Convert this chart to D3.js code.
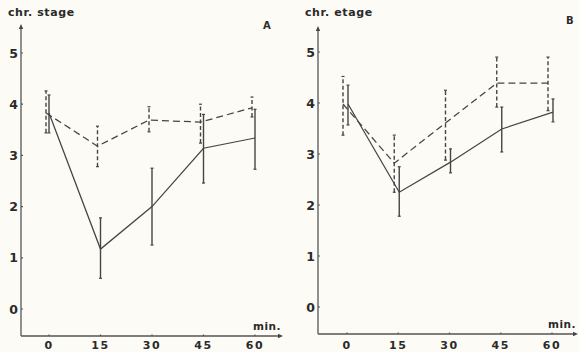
<!DOCTYPE html>
<html>
<head>
<meta charset="utf-8">
<script src="https://cdn.jsdelivr.net/npm/d3@7"></script>
<style>
  html, body { margin: 0; padding: 0; background: #fdfbf5; }
  svg text { font-family: "DejaVu Sans", sans-serif; fill: #2a2a2a; font-weight: bold; }
</style>
</head>
<body>
<svg id="chart" width="579" height="352"></svg>
<script>
// ── DATA ──────────────────────────────────────────────────────────────────────
const minutes = [0, 15, 30, 45, 60];
const yTicks  = [0, 1, 2, 3, 4, 5];

// Panel A
const aSolid    = [3.83, 1.17, 2.0, 3.14, 3.34];
const aSolidLo  = [3.44, 0.6, 1.25, 2.46, 2.73];
const aSolidHi  = [4.18, 1.78, 2.75, 3.8, 3.9];
const aDashed   = [3.83, 3.18, 3.69, 3.65, 3.93];
const aDashedLo = [3.44, 2.78, 3.46, 3.24, 3.75];
const aDashedHi = [4.26, 3.57, 3.95, 4.0, 4.14];

// Panel B
const bSolid    = [3.98, 2.25, 2.84, 3.49, 3.82];
const bSolidLo  = [3.57, 1.78, 2.63, 3.04, 3.63];
const bSolidHi  = [4.35, 2.75, 3.1, 3.92, 4.08];
const bDashed   = [3.98, 2.82, 3.61, 4.39, 4.39];
const bDashedLo = [3.37, 2.25, 2.88, 3.92, 3.85];
const bDashedHi = [4.52, 3.37, 4.25, 4.9, 4.9];

const svg = d3.select('#chart');
const INK = '#454545';

// ── PANEL ─────────────────────────────────────────────────────────────────────
function drawPanel(p) {
  const x = d3.scaleLinear().domain([0, 60]).range([p.x0, p.x60]);
  const y = d3.scaleLinear().domain([0, 5]).range([p.y0, p.y5]);
  const g = svg.append('g');

  // axes
  g.append('line').attr('x1', p.ax).attr('x2', p.ax).attr('y1', p.ay).attr('y2', p.yTop + 3)
    .attr('stroke', '#555').attr('stroke-width', 1.3);
  g.append('line').attr('x1', p.ax).attr('x2', p.xEnd - 3).attr('y1', p.ay).attr('y2', p.ay)
    .attr('stroke', '#555').attr('stroke-width', 1.3);
  g.append('path').attr('d', `M${p.ax},${p.yTop} l-2.2,5 h4.4 z`).attr('fill', '#444');
  g.append('path').attr('d', `M${p.xEnd},${p.ay} l-5,-2.2 v4.4 z`).attr('fill', '#444');

  // y ticks
  yTicks.forEach(t => {
    g.append('line').attr('x1', p.ax).attr('x2', p.ax + 2).attr('y1', y(t)).attr('y2', y(t))
      .attr('stroke', '#555').attr('stroke-width', 1.2);
    g.append('text').attr('x', p.ax - 3).attr('y', y(t) + 4.5).attr('text-anchor', 'end')
      .attr('font-size', 12.5).text(t);
  });

  // x ticks
  minutes.forEach(m => {
    g.append('line').attr('x1', x(m)).attr('x2', x(m)).attr('y1', p.ay).attr('y2', p.ay - 1.5)
      .attr('stroke', '#555').attr('stroke-width', 1.2);
    g.append('text').attr('x', x(m)).attr('y', 348.5).attr('text-anchor', 'middle')
      .attr('font-size', 11).attr('letter-spacing', 1.5).text(m);
  });

  g.append('text').attr('x', p.ax - 13).attr('y', 16).attr('font-size', 11)
    .attr('letter-spacing', 0.6).text(p.ylabel);
  g.append('text').attr('x', p.xEnd - 2).attr('y', p.ay - 6).attr('text-anchor', 'end')
    .attr('font-size', 10.5).attr('letter-spacing', 0.5).text('min.');
  g.append('text').attr('x', p.lx).attr('y', p.ly).attr('font-size', 10).text(p.tag);

  // series
  const series = [
    { v: p.dashed, lo: p.dashedLo, hi: p.dashedHi, dx: p.dDash, dash: '7,4', barDash: '4,2.5' },
    { v: p.solid,  lo: p.solidLo,  hi: p.solidHi,  dx: p.dSolid, dash: null, barDash: null }
  ];
  series.forEach(s => {
    const line = d3.line().x((d, i) => x(minutes[i]) + s.dx).y(d => y(d));
    g.append('path').datum(s.v).attr('d', line).attr('fill', 'none')
      .attr('stroke', INK).attr('stroke-width', 1.25)
      .attr('stroke-dasharray', s.dash);
    minutes.forEach((m, i) => {
      const cx = x(m) + s.dx;
      g.append('line').attr('x1', cx).attr('x2', cx).attr('y1', y(s.lo[i])).attr('y2', y(s.hi[i]))
        .attr('stroke', INK).attr('stroke-width', 1.4).attr('stroke-dasharray', s.barDash);
      [s.lo[i], s.hi[i]].forEach(e => {
        g.append('line').attr('x1', cx - 1.5).attr('x2', cx + 1.5).attr('y1', y(e)).attr('y2', y(e))
          .attr('stroke', INK).attr('stroke-width', 1.2);
      });
    });
  });
}

drawPanel({
  ax: 21, ay: 336, yTop: 24, xEnd: 283,
  x0: 49, x60: 255, y0: 309, y5: 53,
  ylabel: 'chr. stage', tag: 'A', lx: 263, ly: 29,
  solid: aSolid, solidLo: aSolidLo, solidHi: aSolidHi, dSolid: 0,
  dashed: aDashed, dashedLo: aDashedLo, dashedHi: aDashedHi, dDash: -3
});

drawPanel({
  ax: 318, ay: 334, yTop: 26, xEnd: 578,
  x0: 347, x60: 552, y0: 307, y5: 52,
  ylabel: 'chr. etage', tag: 'B', lx: 566, ly: 24,
  solid: bSolid, solidLo: bSolidLo, solidHi: bSolidHi, dSolid: 1,
  dashed: bDashed, dashedLo: bDashedLo, dashedHi: bDashedHi, dDash: -4
});
</script>
</body>
</html>
